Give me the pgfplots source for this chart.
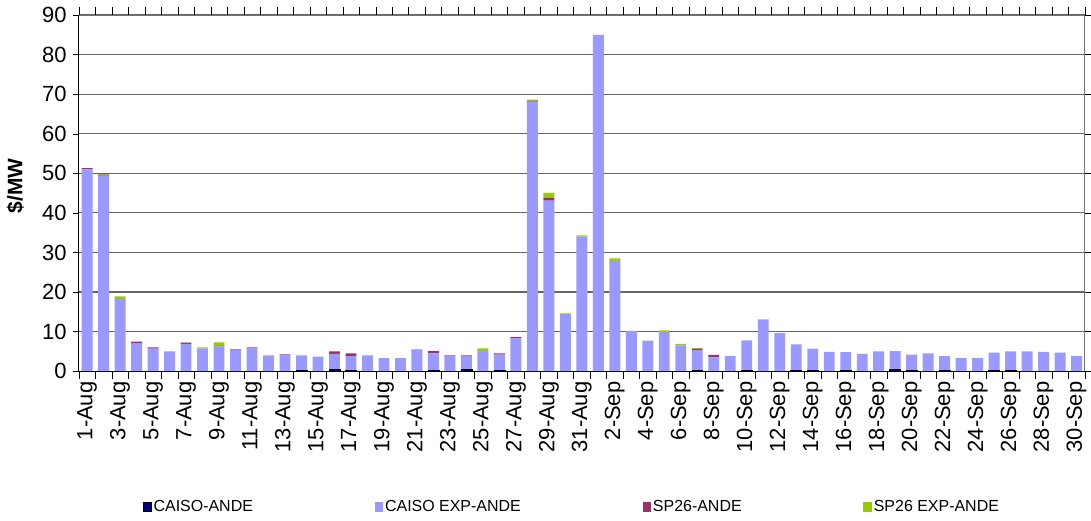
\documentclass[border=0pt]{standalone}
\usepackage{pgfplots}
\pgfplotsset{compat=1.18}
\usepackage{pgfplotstable}
\usepackage{fontspec}
\setmainfont{Liberation Sans}

\definecolor{caiso}{HTML}{000080}
\definecolor{caisoexp}{HTML}{9999FF}
\definecolor{sptwo}{HTML}{993366}
\definecolor{sptwoexp}{HTML}{99CC00}

% idx, CAISO-ANDE, CAISO EXP-ANDE, SP26-ANDE, SP26 EXP-ANDE
\pgfplotstableread{
i a b c d
0 0 51.0 0.3 0
1 0 49.4 0.2 0.2
2 0 18.2 0 0.7
3 0 7.1 0.4 0
4 0 5.7 0.35 0
5 0 5.0 0 0
6 0 6.9 0.25 0.15
7 0 5.8 0 0.2
8 0 6.3 0.1 0.9
9 0 5.4 0.1 0
10 0 5.8 0.25 0
11 0 4.0 0 0
12 0 4.2 0.1 0
13 0.2 3.8 0 0
14 0 3.7 0 0
15 0.4 4.0 0.6 0
16 0.3 3.5 0.7 0
17 0 4.0 0 0
18 0 3.3 0 0
19 0 3.3 0 0
20 0 5.5 0.05 0
21 0.3 4.2 0.6 0
22 0 3.9 0.1 0
23 0.5 3.3 0.2 0
24 0 5.1 0 0.7
25 0.2 4.0 0.3 0
26 0 8.3 0.3 0
27 0 68.1 0.2 0.3
28 0 43.1 0.75 1.2
29 0 14.4 0 0.2
30 0 34.0 0 0.3
31 0 85.0 0 0
32 0 27.8 0 0.7
33 0 10.1 0 0.1
34 0 7.6 0 0.1
35 0 9.9 0 0.4
36 0 6.5 0 0.4
37 0.2 5.1 0.35 0.25
38 0 3.5 0.6 0
39 0 3.9 0 0
40 0.2 7.6 0 0
41 0 13.1 0 0
42 0 9.6 0 0
43 0.2 6.6 0 0
44 0.2 5.5 0 0
45 0 4.9 0 0
46 0.2 4.6 0 0
47 0 4.4 0 0
48 0 5.0 0 0
49 0.4 4.7 0 0
50 0.2 4.0 0 0
51 0 4.5 0 0
52 0.2 3.6 0 0
53 0 3.4 0 0
54 0 3.4 0 0
55 0.2 4.5 0 0
56 0.2 4.8 0 0
57 0 5.0 0 0
58 0 4.9 0 0
59 0 4.7 0 0
60 0 3.9 0 0
}\prices

\begin{document}
\begin{tikzpicture}
\begin{axis}[
    scale only axis,
    width=504pt, height=178.5pt,
    ybar stacked,
    bar width=0.66,
    xmin=-0.5, xmax=60.5,
    ymin=0, ymax=90,
    ytick={0,10,...,90},
    xtick={0,2,...,60},
    xticklabels={1-Aug,3-Aug,5-Aug,7-Aug,9-Aug,11-Aug,13-Aug,15-Aug,17-Aug,19-Aug,21-Aug,23-Aug,25-Aug,27-Aug,29-Aug,31-Aug,2-Sep,4-Sep,6-Sep,8-Sep,10-Sep,12-Sep,14-Sep,16-Sep,18-Sep,20-Sep,22-Sep,24-Sep,26-Sep,28-Sep,30-Sep},
    minor xtick={-0.5,0.5,...,60.5},
    x tick style={draw=none},
    minor x tick style={draw=black},
    minor tick length=4pt,
    y tick style={black},
    major tick length=3pt,
    tick align=outside,
    ymajorgrids,
    grid style={black!60, line width=0.6pt},
    axis line style={black!55},
    clip=false,
    /pgf/number format/assume math mode=true,
    tick label style={font=\fontsize{11}{13}\selectfont},
    xticklabel style={rotate=90, anchor=east, inner sep=2pt},
    yticklabel style={inner sep=3pt},
    ylabel={\textbf{\$/MW}},
    ylabel style={font=\fontsize{10.5}{12}\selectfont, at={(rel axis cs:-0.063,0.52)}, anchor=center},
    legend columns=4,
    legend style={draw=none, at={(0.49,-0.381)}, anchor=center,
        font=\fontsize{8}{10}\selectfont,
        /tikz/every even column/.append style={column sep=60pt},
        nodes={inner sep=1pt}},
]
\addplot[fill=caiso, draw=black, line width=0.3pt,
    legend image code/.code={\draw[fill=caiso,draw=black] (0pt,-2.3pt) rectangle (4.2pt,2.3pt);}]
    table[x=i, y=a] {\prices};
\addlegendentry{CAISO-ANDE}
\addplot[fill=caisoexp, draw=none,
    legend image code/.code={\fill[caisoexp] (0pt,-2.3pt) rectangle (4.2pt,2.3pt);}]
    table[x=i, y=b] {\prices};
\addlegendentry{CAISO EXP-ANDE}
\addplot[fill=sptwo, draw=none,
    legend image code/.code={\fill[sptwo] (0pt,-2.3pt) rectangle (4.2pt,2.3pt);}]
    table[x=i, y=c] {\prices};
\addlegendentry{SP26-ANDE}
\addplot[fill=sptwoexp, draw=none,
    legend image code/.code={\fill[sptwoexp] (0pt,-2.3pt) rectangle (4.2pt,2.3pt);}]
    table[x=i, y=d] {\prices};
\addlegendentry{SP26 EXP-ANDE}
% black left and bottom axis lines, page extent
\draw[black, line width=0.6pt] (rel axis cs:0,1) -- (rel axis cs:0,0) -- (rel axis cs:1,0);
\path (rel axis cs:-0.0784,-0.412) rectangle (rel axis cs:1.004,1.042);
\end{axis}
\end{tikzpicture}
\end{document}
